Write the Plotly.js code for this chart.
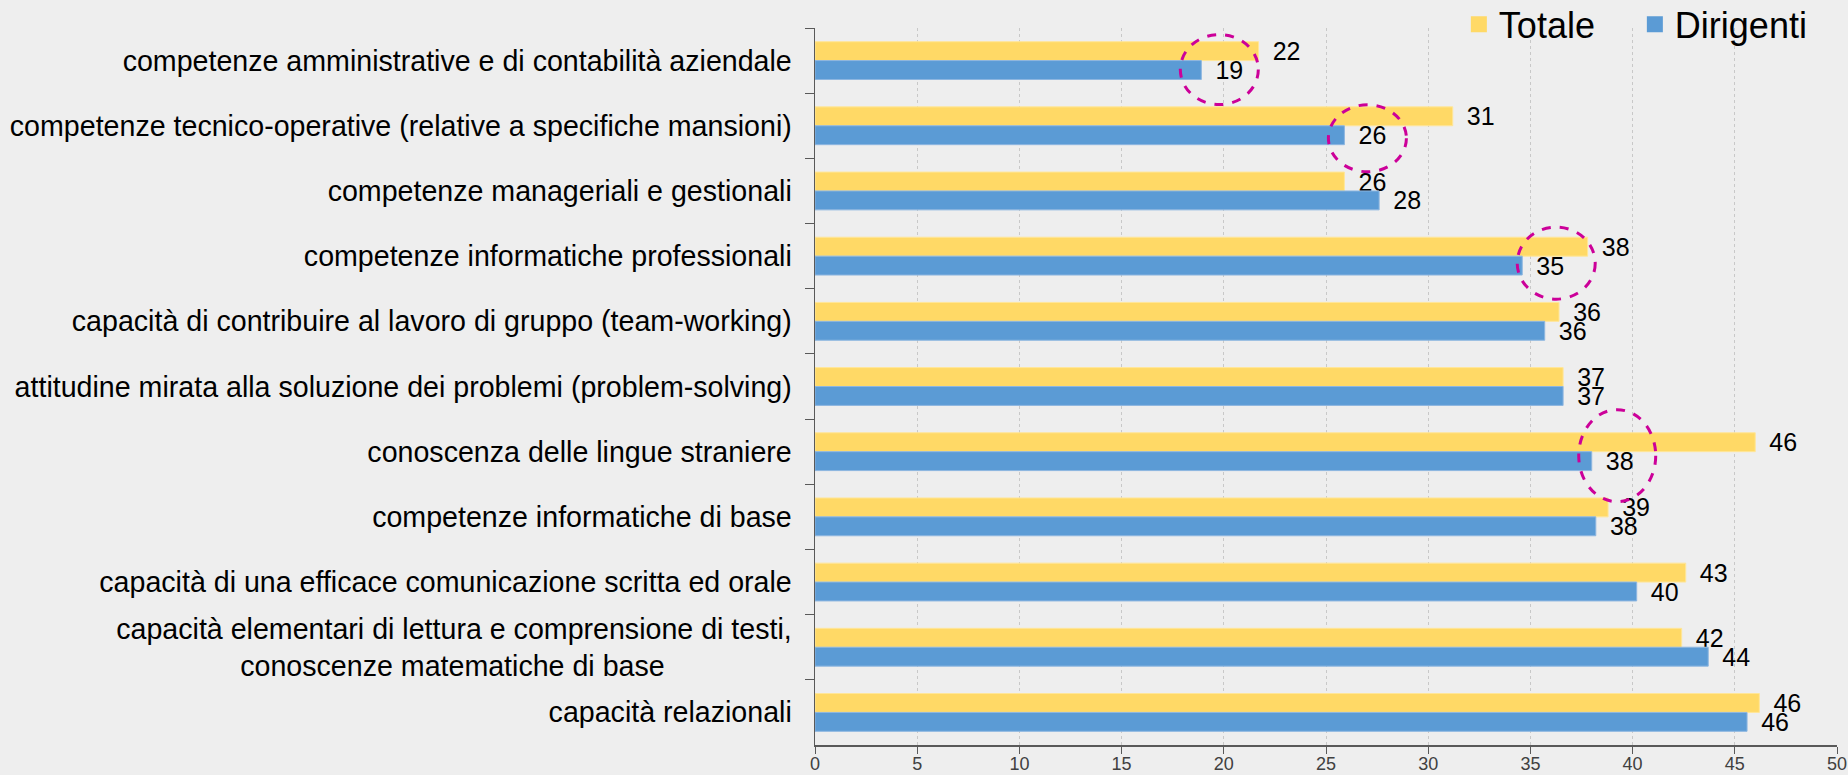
<!DOCTYPE html>
<html>
<head>
<meta charset="utf-8">
<script src="https://cdn.plot.ly/plotly-3.0.1.min.js"></script>
<style>
    html, body { margin: 0; padding: 0; background: #eeeeee; }
    #skills_chart { width: 1848px; height: 775px; }
</style>
</head>
<body>
<div id="skills_chart"></div>
<script>
var NBSP = "\u00a0";
var THIN = "\u2006";

// categories, top to bottom
var categories = [
    "competenze amministrative e di contabilità aziendale",
    "competenze tecnico-operative (relative a specifiche mansioni)",
    "competenze manageriali e gestionali",
    "competenze informatiche professionali",
    "capacità di contribuire al lavoro di gruppo (team-working)",
    "attitudine mirata alla soluzione dei problemi (problem-solving)",
    "conoscenza delle lingue straniere",
    "competenze informatiche di base",
    "capacità di una efficace comunicazione scritta ed orale",
    "capacità elementari di lettura e comprensione di testi,<br>conoscenze matematiche di base" + NBSP.repeat(16),
    "capacità relazionali"
];

var totale = [21.7, 31.2, 25.9, 37.8, 36.4, 36.6, 46.0, 38.8, 42.6, 42.4, 46.2];
var dirigenti = [18.9, 25.9, 27.6, 34.6, 35.7, 36.6, 38.0, 38.2, 40.2, 43.7, 45.6];

// rows whose "Dirigenti" label is circled in the original
var circled = [0, 1, 3, 6];

var YELLOW = "#FFD966";
var BLUE = "#5B9BD5";
var FONT = "Liberation Sans, Arial, sans-serif";

function barTrace(name, values, color, edge) {
    return {
        type: "bar",
        orientation: "h",
        name: name,
        x: values,
        y: categories,
        marker: { color: color, line: { color: edge, width: 1 } },
        texttemplate: NBSP + THIN + "%{x:.0f}",
        textposition: "outside",
        constraintext: "none",
        cliponaxis: false,
        textfont: { family: FONT, size: 25, color: "#000000" },
        hoverinfo: "skip",
        showlegend: false
    };
}

// legend-only entries so the swatches come out bigger than the bar default
function legendTrace(name, color) {
    return {
        type: "scatter",
        mode: "markers",
        name: name,
        x: [null],
        y: [null],
        marker: { symbol: "square", size: 18, color: color },
        hoverinfo: "skip"
    };
}

// dashed magenta ring around a Dirigenti label, sized in pixels
function ring(row, x0, x1, y0, y1) {
    return {
        type: "circle",
        xref: "x",
        yref: "y",
        xsizemode: "pixel",
        ysizemode: "pixel",
        xanchor: dirigenti[row],
        yanchor: row,
        x0: x0, x1: x1, y0: y0, y1: y1,
        line: { color: "#CC0099", width: 3, dash: "dash" }
    };
}

var ringBoxes = {
    0: [-21, 57, -44, 26],
    1: [-16, 62, -46, 21],
    3: [-5, 73, -43, 29],
    6: [-13, 64, -50, 42]
};

var shapes = circled.map(function (row) {
    var b = ringBoxes[row];
    return ring(row, b[0], b[1], b[2], b[3]);
});

var data = [
    barTrace("Totale", totale, YELLOW, "#FFE699"),
    barTrace("Dirigenti", dirigenti, BLUE, "#8DB6E0"),
    legendTrace("Totale", YELLOW),
    legendTrace("Dirigenti", BLUE)
];

var layout = {
    width: 1848,
    height: 775,
    margin: { l: 815, r: 11, t: 28, b: 30, autoexpand: false },
    paper_bgcolor: "#eeeeee",
    plot_bgcolor: "#eeeeee",
    font: { family: FONT, color: "#000000" },
    barmode: "group",
    bargap: 0.42,
    bargroupgap: 0,
    showlegend: true,
    legend: {
        orientation: "h",
        x: 0.63,
        xanchor: "left",
        y: 1.005,
        yanchor: "middle",
        entrywidth: 131,
        entrywidthmode: "pixels",
        bgcolor: "rgba(0,0,0,0)",
        font: { family: FONT, size: 36, color: "#000000" }
    },
    xaxis: {
        range: [0, 50],
        tick0: 0,
        dtick: 5,
        showgrid: true,
        gridcolor: "#c8c8c8",
        griddash: "3px,3px",
        gridwidth: 1,
        zeroline: false,
        showline: true,
        linecolor: "#595959",
        linewidth: 1.5,
        ticks: "outside",
        ticklen: 7,
        tickcolor: "#595959",
        ticklabelstandoff: -5,
        tickfont: { family: FONT, size: 18, color: "#404040" },
        fixedrange: true
    },
    yaxis: {
        type: "category",
        range: [categories.length - 0.5, -0.5],
        showgrid: false,
        showline: true,
        linecolor: "#595959",
        linewidth: 1.5,
        ticks: "outside",
        tickson: "boundaries",
        ticklen: 9,
        tickcolor: "#595959",
        ticklabelstandoff: 16,
        tickfont: { family: FONT, size: 28.6, color: "#000000" },
        fixedrange: true
    },
    shapes: shapes
};

Plotly.newPlot("skills_chart", data, layout, { displayModeBar: false, staticPlot: true });
</script>
</body>
</html>
